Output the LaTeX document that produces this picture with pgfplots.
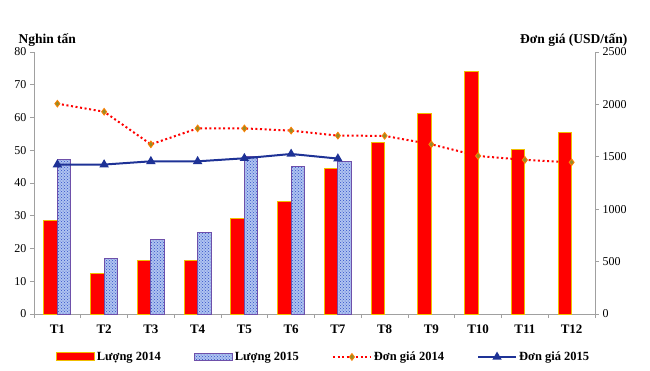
\documentclass[border=0pt]{standalone}
\usepackage{fontspec}
\setmainfont{Liberation Serif}
\usepackage{pgfplots}
\pgfplotsset{compat=1.18}
\usetikzlibrary{patterns}
\definecolor{baredge}{RGB}{240,190,0}
\definecolor{checkblue}{RGB}{50,80,200}
\definecolor{checkfill}{RGB}{175,195,240}
\definecolor{purp}{RGB}{110,80,170}
\definecolor{navy2}{RGB}{30,50,150}
\definecolor{olivem}{RGB}{150,140,40}
\definecolor{axgray}{RGB}{160,160,160}
\pgfplotsset{
  linelegend/.style={legend image code/.code={\draw[##1, mark repeat=2, mark phase=2] plot coordinates {(0pt,0pt) (19pt,0pt) (38pt,0pt)};}},
  base/.style={
    at={(34pt,56pt)}, anchor=south west, scale only axis,
    width=561pt, height=262pt,
    xmin=-0.5, xmax=11.5,
    axis line style={axgray, line width=0.8pt},
    tick style={axgray, line width=0.8pt},
    tick align=outside,
    major tick length=4pt, minor tick length=4pt,
    /pgf/number format/assume math mode=true,
    /pgf/number format/1000 sep={},
    ticklabel style={font=\fontsize{12}{14}\selectfont},
  }
}
\begin{document}
\begin{tikzpicture}[font=\fontsize{12}{14}\selectfont]
\useasboundingbox (0,0) rectangle (650pt,370pt);
\begin{axis}[base,
  axis x line*=bottom, axis y line*=left,
  ymin=0, ymax=80, ytick={0,10,...,80},
  xtick={0,...,11},
  xticklabels={T1,T2,T3,T4,T5,T6,T7,T8,T9,T10,T11,T12},
  major x tick style={draw=none},
  minor xtick={-0.5,0.5,...,11.5},
  xticklabel style={font=\fontsize{13}{15}\selectfont\bfseries, yshift=-3pt},
]
\addplot[ybar, bar width=0.29, bar shift=-0.145, fill=red, draw=baredge, line width=0.8pt]
  coordinates {(0,28.7) (1,12.4) (2,16.3) (3,16.3) (4,29.2) (5,34.3) (6,44.5) (7,52.5) (8,61.3) (9,74.0) (10,50.3) (11,55.4)};
\addplot[ybar, bar width=0.29, bar shift=0.145, fill=checkfill,
  postaction={pattern=crosshatch dots, pattern color=checkblue}, draw=purp, line width=1pt]
  coordinates {(0,47.2) (1,16.8) (2,22.8) (3,25.0) (4,48.2) (5,44.9) (6,46.5)};
\end{axis}
\begin{axis}[base,
  axis x line=none, axis y line*=right,
  ymin=0, ymax=2500, ytick={0,500,...,2500},
  yticklabel style={anchor=west},
  legend columns=4,
  legend style={at={(0.516,-0.164)}, anchor=center, draw=none,
    font=\fontsize{12.5}{14}\selectfont\bfseries,
    /tikz/every even column/.append style={column sep=31pt}},
]
\addlegendimage{legend image code/.code={\draw[fill=red, draw=baredge, line width=1pt] (0pt,-4pt) rectangle (38pt,4pt);}}
\addlegendentry{Lượng 2014}
\addlegendimage{legend image code/.code={\draw[fill=checkfill, postaction={pattern=crosshatch dots, pattern color=checkblue}, draw=purp, line width=1pt] (0pt,-3.5pt) rectangle (38pt,3.5pt);}}
\addlegendentry{Lượng 2015}
\addplot[red, line width=2pt, dash pattern=on 2pt off 2.6pt,
  mark=diamond*, mark size=3.4pt, mark options={solid, fill=olivem, draw=orange, line width=0.8pt},
  linelegend]
  coordinates {(0,2007) (1,1930) (2,1619) (3,1771) (4,1771) (5,1750) (6,1702) (7,1700) (8,1619) (9,1508) (10,1470) (11,1448)};
\addlegendentry{Đơn giá 2014}
\addplot[navy2, line width=2pt, mark=triangle*, mark size=3.4pt, mark options={fill=navy2},
  linelegend]
  coordinates {(0,1426) (1,1426) (2,1457) (3,1457) (4,1486) (5,1527) (6,1483)};
\addlegendentry{Đơn giá 2015}
\end{axis}
\node[anchor=west, font=\fontsize{13.5}{15}\selectfont\bfseries] at (15pt,330pt) {Nghin tấn};
\node[anchor=east, font=\fontsize{13.5}{15}\selectfont\bfseries] at (631pt,330pt) {Đơn giá (USD/tấn)};
\end{tikzpicture}
\end{document}
